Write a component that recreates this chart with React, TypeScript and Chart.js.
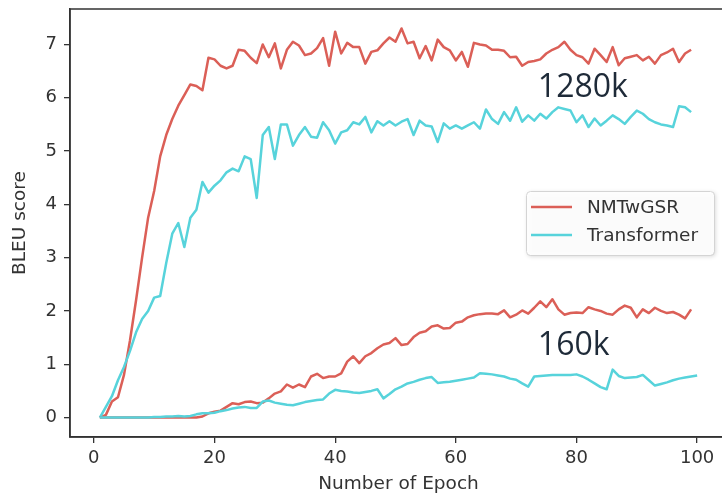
import React, { useEffect, useRef } from "react";
import { Chart, registerables } from "chart.js";

Chart.register(...registerables);

// ---------------- data ----------------
const epochs = [
  1, 2, 3, 4, 5, 6, 7, 8, 9, 10, 11, 12, 13, 14, 15, 16, 17, 18, 19, 20,
  21, 22, 23, 24, 25, 26, 27, 28, 29, 30, 31, 32, 33, 34, 35, 36, 37, 38, 39, 40,
  41, 42, 43, 44, 45, 46, 47, 48, 49, 50, 51, 52, 53, 54, 55, 56, 57, 58, 59, 60,
  61, 62, 63, 64, 65, 66, 67, 68, 69, 70, 71, 72, 73, 74, 75, 76, 77, 78, 79, 80,
  81, 82, 83, 84, 85, 86, 87, 88, 89, 90, 91, 92, 93, 94, 95, 96, 97, 98, 99, 100,
];

// NMTwGSR, 1280k corpus (epochs 1..99)
const nmt1280k = [
  0.0, 0.05, 0.3, 0.38, 0.8, 1.45, 2.2, 3.0, 3.75, 4.25,
  4.9, 5.3, 5.6, 5.85, 6.05, 6.25, 6.22, 6.14, 6.75, 6.72,
  6.6, 6.55, 6.6, 6.9, 6.88, 6.75, 6.65, 7.0, 6.76, 7.02,
  6.55, 6.9, 7.05, 6.98, 6.8, 6.83, 6.93, 7.12, 6.6, 7.24,
  6.83, 7.03, 6.95, 6.95, 6.64, 6.86, 6.89, 7.02, 7.13, 7.05,
  7.3, 7.02, 7.05, 6.74, 6.97, 6.7, 7.09, 6.95, 6.89, 6.7,
  6.86, 6.58, 7.03, 7.0, 6.98, 6.9, 6.9, 6.88, 6.76, 6.77,
  6.6, 6.67, 6.69, 6.72, 6.83, 6.9, 6.95, 7.05, 6.9, 6.8,
  6.76, 6.64, 6.92, 6.8, 6.67, 6.95, 6.61, 6.74, 6.77, 6.8,
  6.7, 6.77, 6.64, 6.8, 6.85, 6.92, 6.67, 6.83, 6.9,
];

// Transformer, 1280k corpus (epochs 1..99)
const trans1280k = [
  0.0, 0.2, 0.4, 0.7, 0.95, 1.25, 1.6, 1.85, 2.0, 2.25,
  2.28, 2.9, 3.45, 3.65, 3.2, 3.75, 3.9, 4.42, 4.22, 4.35,
  4.45, 4.6, 4.67, 4.62, 4.9, 4.85, 4.12, 5.3, 5.45, 4.85,
  5.5, 5.5, 5.1, 5.3, 5.45, 5.27, 5.25, 5.54, 5.39, 5.14,
  5.35, 5.39, 5.54, 5.5, 5.64, 5.35, 5.56, 5.48, 5.56, 5.48,
  5.55, 5.6, 5.3, 5.57, 5.48, 5.46, 5.17, 5.52, 5.42, 5.48,
  5.42, 5.48, 5.54, 5.42, 5.78, 5.6, 5.51, 5.73, 5.57, 5.82,
  5.55, 5.67, 5.57, 5.7, 5.61, 5.73, 5.82, 5.79, 5.76, 5.54,
  5.67, 5.45, 5.61, 5.48, 5.57, 5.67, 5.6, 5.51, 5.64, 5.76,
  5.7, 5.6, 5.54, 5.5, 5.48, 5.45, 5.84, 5.82, 5.73,
];

// NMTwGSR, 160k corpus (epochs 1..99)
const nmt160k = [
  0.0, 0.0, 0.0, 0.0, 0.0, 0.0, 0.0, 0.0, 0.0, 0.0,
  0.0, 0.0, 0.0, 0.0, 0.0, 0.0, 0.0, 0.02, 0.08, 0.11,
  0.13, 0.2, 0.27, 0.25, 0.29, 0.3, 0.27, 0.28, 0.36, 0.45,
  0.49, 0.62, 0.56, 0.62, 0.57, 0.77, 0.82, 0.74, 0.77, 0.77,
  0.83, 1.05, 1.15, 1.02, 1.15, 1.21, 1.3, 1.37, 1.4, 1.49,
  1.36, 1.38, 1.51, 1.59, 1.62, 1.71, 1.73, 1.67, 1.68, 1.78,
  1.8, 1.88, 1.92, 1.94, 1.95, 1.95, 1.94, 2.01, 1.88, 1.93,
  2.01, 1.95, 2.06, 2.18, 2.07, 2.22, 2.03, 1.93, 1.96, 1.97,
  1.96, 2.07, 2.03, 2.0, 1.95, 1.93, 2.03, 2.1, 2.06, 1.88,
  2.03, 1.96, 2.06, 2.0, 1.96, 1.98, 1.93, 1.86, 2.03,
];

// Transformer, 160k corpus (epochs 1..100)
const trans160k = [
  0.0, 0.0, 0.0, 0.0, 0.0, 0.0, 0.0, 0.0, 0.0, 0.01,
  0.01, 0.02, 0.02, 0.03, 0.02, 0.03, 0.06, 0.08, 0.08, 0.09,
  0.12, 0.14, 0.17, 0.19, 0.2, 0.18, 0.18, 0.3, 0.32, 0.28,
  0.26, 0.24, 0.23, 0.26, 0.29, 0.31, 0.33, 0.34, 0.45, 0.52,
  0.5, 0.49, 0.47, 0.46, 0.48, 0.5, 0.53, 0.36, 0.44, 0.53,
  0.58, 0.64, 0.67, 0.71, 0.74, 0.76, 0.65, 0.66, 0.67, 0.69,
  0.71, 0.73, 0.75, 0.83, 0.82, 0.81, 0.79, 0.77, 0.73, 0.71,
  0.64, 0.58, 0.77, 0.78, 0.79, 0.8, 0.8, 0.8, 0.8, 0.81,
  0.77, 0.71, 0.64, 0.57, 0.53, 0.9, 0.78, 0.74, 0.75, 0.76,
  0.8, 0.7, 0.6, 0.63, 0.66, 0.7, 0.73, 0.75, 0.77, 0.79,
];

const seriesNames = ["NMTwGSR", "Transformer"];
const xTickValues = [0, 20, 40, 60, 80, 100];
const yTickValues = [0, 1, 2, 3, 4, 5, 6, 7];
const xRange = [-3.95, 104.95];
const yRange = [-0.365, 7.665];
const annotationTexts = ["1280k", "160k"];
const annotationXs = [73.6, 73.6];
const annotationYs = [6.18, 1.34];

// ---------------- styles ----------------
const RED = "#db5f57";
const CYAN = "#57d3db";
const AXIS = "#333333";
const FONT = "'DejaVu Sans', sans-serif";

const toPoints = (vals: number[]) => vals.map((v, i) => ({ x: epochs[i], y: v }));

const framePlugin = {
  id: "frameLegendNotes",
  afterDraw(chart: any) {
    const { ctx, chartArea } = chart;
    const { left, top, right, bottom } = chartArea;
    ctx.save();
    // frame (all four spines)
    ctx.strokeStyle = AXIS;
    ctx.lineWidth = 1.5;
    ctx.strokeRect(left, top, right - left, bottom - top);

    // annotations
    const xs = chart.scales.x;
    const ys = chart.scales.y;
    ctx.fillStyle = "#1e2a38";
    ctx.font = "32px 'Open Sans', sans-serif";
    ctx.textAlign = "left";
    ctx.textBaseline = "middle";
    annotationTexts.forEach((t, i) => {
      ctx.fillText(t, xs.getPixelForValue(annotationXs[i]), ys.getPixelForValue(annotationYs[i]));
    });

    // legend box
    const bx = right - 201;
    const by = top + 182;
    const bw = 188;
    const bh = 64;
    ctx.save();
    ctx.shadowColor = "rgba(0,0,0,0.18)";
    ctx.shadowBlur = 4;
    ctx.shadowOffsetX = 1.5;
    ctx.shadowOffsetY = 1.5;
    ctx.fillStyle = "rgba(255,255,255,0.9)";
    ctx.beginPath();
    (ctx as any).roundRect(bx, by, bw, bh, 4);
    ctx.fill();
    ctx.restore();
    ctx.strokeStyle = "#d4d4d4";
    ctx.lineWidth = 1;
    ctx.beginPath();
    (ctx as any).roundRect(bx + 0.5, by + 0.5, bw, bh, 4);
    ctx.stroke();

    const seen: string[] = [];
    const items: { label: string; color: string }[] = [];
    chart.data.datasets.forEach((d: any) => {
      if (!seen.includes(d.label)) {
        seen.push(d.label);
        items.push({ label: d.label, color: d.borderColor });
      }
    });
    items.sort((a, b) => seriesNames.indexOf(a.label) - seriesNames.indexOf(b.label));
    ctx.font = `18.5px ${FONT}`;
    ctx.textBaseline = "middle";
    ctx.textAlign = "left";
    items.forEach((it, i) => {
      const yy = by + 16 + i * 28;
      ctx.strokeStyle = it.color;
      ctx.lineWidth = 2.5;
      ctx.beginPath();
      ctx.moveTo(bx + 5, yy);
      ctx.lineTo(bx + 46, yy);
      ctx.stroke();
      ctx.fillStyle = AXIS;
      ctx.fillText(it.label, bx + 61, yy + 1);
    });
    ctx.restore();
  },
};

export default function App() {
  const ref = useRef<HTMLCanvasElement | null>(null);

  useEffect(() => {
    if (!ref.current) return;
    const common = {
      pointRadius: 0,
      borderWidth: 2.5,
      tension: 0,
      fill: false,
      borderJoinStyle: "round" as const,
    };
    const chart = new Chart(ref.current, {
      type: "line",
      data: {
        datasets: [
          { ...common, label: seriesNames[0], data: toPoints(nmt1280k), borderColor: RED, order: 4 },
          { ...common, label: seriesNames[1], data: toPoints(trans1280k), borderColor: CYAN, order: 3 },
          { ...common, label: seriesNames[0], data: toPoints(nmt160k), borderColor: RED, order: 2 },
          { ...common, label: seriesNames[1], data: toPoints(trans160k), borderColor: CYAN, order: 1 },
        ],
      },
      options: {
        animation: false,
        responsive: false,
        maintainAspectRatio: false,
        devicePixelRatio: 1,
        layout: { padding: { left: 0, right: 3, top: 9, bottom: 0 } },
        plugins: {
          legend: { display: false },
          tooltip: { enabled: false },
        },
        scales: {
          x: {
            type: "linear",
            min: xRange[0],
            max: xRange[1],
            afterBuildTicks: (s: any) => {
              s.ticks = xTickValues.map((v) => ({ value: v }));
            },
            afterFit: (s: any) => {
              s.height = 58;
              s.paddingLeft = 0;
              s.paddingRight = 0;
            },
            grid: {
              display: true,
              drawOnChartArea: false,
              drawTicks: true,
              tickLength: 6,
              color: AXIS,
              lineWidth: 1.3,
            },
            border: { display: true, color: AXIS, width: 1.5 },
            ticks: {
              autoSkip: false,
              maxRotation: 0,
              padding: 5,
              color: AXIS,
              font: { family: FONT, size: 18 },
              callback: (v: any) => String(v),
            },
            title: {
              display: true,
              text: "Number of Epoch",
              color: AXIS,
              font: { family: FONT, size: 18.5 },
              padding: { top: 0, bottom: 0 },
            },
          },
          y: {
            type: "linear",
            min: yRange[0],
            max: yRange[1],
            afterBuildTicks: (s: any) => {
              s.ticks = yTickValues.map((v) => ({ value: v }));
            },
            afterFit: (s: any) => {
              s.width = 70;
              s.paddingTop = 0;
              s.paddingBottom = 0;
            },
            grid: {
              display: true,
              drawOnChartArea: false,
              drawTicks: true,
              tickLength: 6,
              color: AXIS,
              lineWidth: 1.3,
            },
            border: { display: true, color: AXIS, width: 1.5 },
            ticks: {
              autoSkip: false,
              padding: 7,
              color: AXIS,
              font: { family: FONT, size: 18 },
              callback: (v: any) => String(v),
            },
            title: {
              display: true,
              text: "BLEU score",
              color: AXIS,
              font: { family: FONT, size: 18.5 },
              padding: { top: 9, bottom: 0 },
            },
          },
        },
      },
      plugins: [framePlugin],
    });
    return () => chart.destroy();
  }, []);

  return (
    <div
      style={{
        position: "fixed",
        left: 0,
        top: 0,
        width: 722,
        height: 495,
        overflow: "hidden",
        background: "#ffffff",
      }}
    >
      <canvas ref={ref} width={730} height={495} style={{ display: "block" }} />
    </div>
  );
}
